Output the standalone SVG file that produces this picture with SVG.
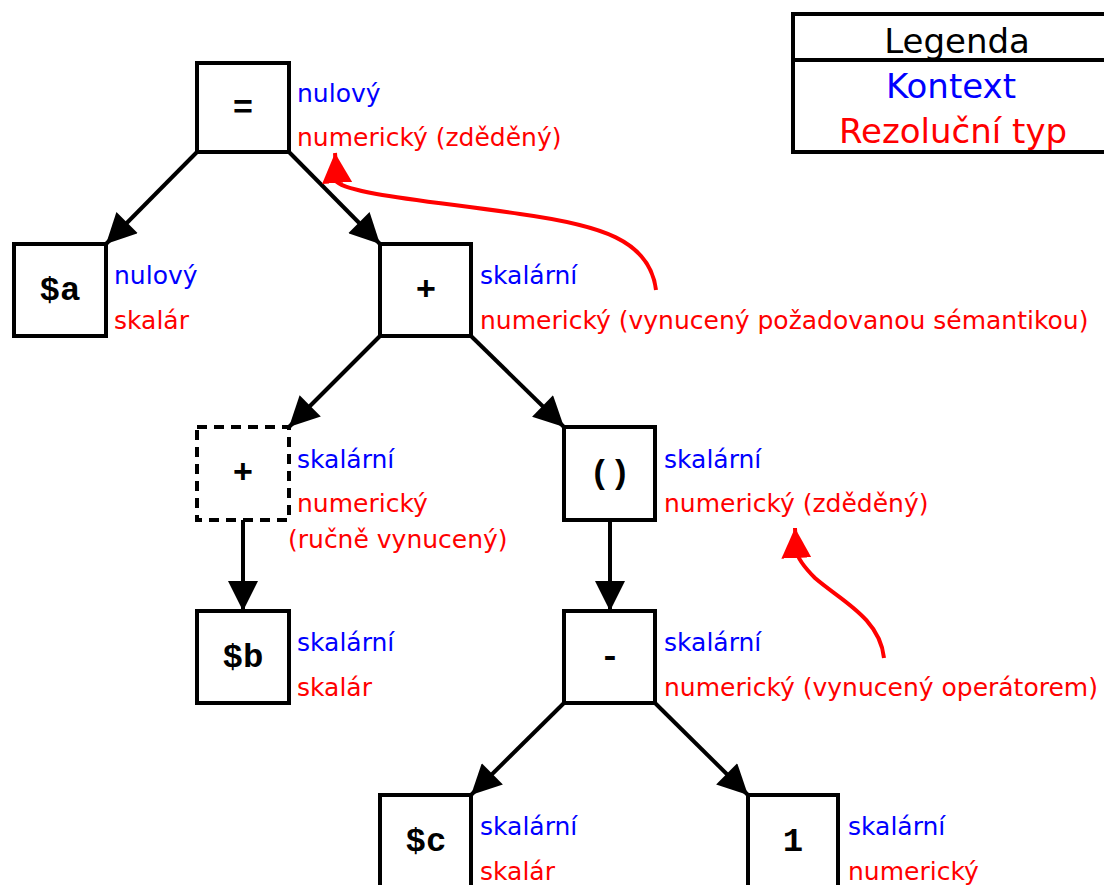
<svg xmlns="http://www.w3.org/2000/svg" width="1104" height="885" viewBox="0 0 1104 885">
<style>
.box{fill:#fff;stroke:#000;stroke-width:4}
.dash{fill:#fff;stroke:#000;stroke-width:4;stroke-dasharray:10,7}
.op{font-family:"Liberation Mono",monospace;font-weight:bold;font-size:34px;text-anchor:middle}
.ctx{font-family:"DejaVu Sans",sans-serif;font-size:25px;fill:#0000ff}
.res{font-family:"DejaVu Sans",sans-serif;font-size:25px;fill:#ff0000}
.lg{font-family:"DejaVu Sans",sans-serif;font-size:34px;text-anchor:middle}
.edge{stroke:#000;stroke-width:4;fill:none;marker-end:url(#ah)}
.red{stroke:#ff0000;stroke-width:4;fill:none;marker-end:url(#rh)}
</style>
<defs>
<marker id="ah" viewBox="0 0 10 10" refX="10" refY="5" markerWidth="8" markerHeight="7.5" orient="auto" markerUnits="strokeWidth"><path d="M0,0 L10,5 L0,10 z" fill="#000"/></marker>
<marker id="rh" viewBox="0 0 10 10" refX="10" refY="5" markerWidth="7.5" markerHeight="7.5" orient="auto" markerUnits="strokeWidth"><path d="M0,0 L10,5 L0,10 z" fill="#ff0000"/></marker>
</defs>
<rect width="1104" height="885" fill="#fff"/>
<g id="connectors">
<line class="edge" x1="197" y1="152" x2="106" y2="244"/>
<line class="edge" x1="289" y1="152" x2="380" y2="244"/>
<line class="edge" x1="380" y1="336" x2="289" y2="427"/>
<line class="edge" x1="471" y1="336" x2="564" y2="427"/>
<line class="edge" x1="243" y1="520" x2="243" y2="611"/>
<line class="edge" x1="610" y1="520" x2="610" y2="611"/>
<line class="edge" x1="564" y1="703" x2="471" y2="795"/>
<line class="edge" x1="655" y1="703" x2="748" y2="795"/>
<path class="red" d="M656,290 C650,240 600,225 520,214 C430,201 350,194 337,182 L335,153"/>
<path class="red" d="M884,658 C880,618 840,600 815,578 C800,563 797,556 796,550 L795,528"/>
</g>
<g id="node-assign">
<rect class="box" x="197" y="63" width="92" height="89"/>
<text class="op" x="243" y="118">=</text>
<text class="ctx" x="297" y="102">nulový</text>
<text class="res" x="297" y="146">numerický (zděděný)</text>
</g>
<g id="node-a">
<rect class="box" x="14" y="244" width="92" height="92"/>
<text class="op" x="60" y="300">$a</text>
<text class="ctx" x="114" y="284">nulový</text>
<text class="res" x="114" y="329">skalár</text>
</g>
<g id="node-plus">
<rect class="box" x="380" y="244" width="91" height="92"/>
<text class="op" x="426" y="300">+</text>
<text class="ctx" x="480" y="284">skalární</text>
<text class="res" x="480" y="329">numerický (vynucený požadovanou sémantikou)</text>
</g>
<g id="node-plus-manual">
<rect class="dash" x="197" y="427" width="92" height="93"/>
<text class="op" x="243" y="483">+</text>
<text class="ctx" x="297" y="468">skalární</text>
<text class="res" x="297" y="512">numerický</text>
<text class="res" x="288" y="548">(ručně vynucený)</text>
</g>
<g id="node-paren">
<rect class="box" x="564" y="427" width="91" height="93"/>
<text class="op" x="610" y="483">()</text>
<text class="ctx" x="664" y="468">skalární</text>
<text class="res" x="664" y="512">numerický (zděděný)</text>
</g>
<g id="node-b">
<rect class="box" x="197" y="611" width="92" height="92"/>
<text class="op" x="243" y="667">$b</text>
<text class="ctx" x="297" y="651">skalární</text>
<text class="res" x="297" y="696">skalár</text>
</g>
<g id="node-minus">
<rect class="box" x="564" y="611" width="91" height="92"/>
<text class="op" x="610" y="667">-</text>
<text class="ctx" x="664" y="651">skalární</text>
<text class="res" x="664" y="696">numerický (vynucený operátorem)</text>
</g>
<g id="node-c">
<rect class="box" x="380" y="795" width="91" height="100"/>
<text class="op" x="426" y="851">$c</text>
<text class="ctx" x="480" y="835">skalární</text>
<text class="res" x="480" y="880">skalár</text>
</g>
<g id="node-one">
<rect class="box" x="748" y="795" width="90" height="100"/>
<text class="op" x="793" y="851">1</text>
<text class="ctx" x="848" y="835">skalární</text>
<text class="res" x="848" y="880">numerický</text>
</g>
<g id="legend">
<rect class="box" x="793" y="14" width="330" height="138"/>
<line x1="793" y1="60" x2="1110" y2="60" stroke="#000" stroke-width="4"/>
<text class="lg" x="957" y="53">Legenda</text>
<text class="lg" x="951" y="98" fill="#0000ff">Kontext</text>
<text class="lg" x="953" y="143" fill="#ff0000">Rezoluční typ</text>
</g>
</svg>
